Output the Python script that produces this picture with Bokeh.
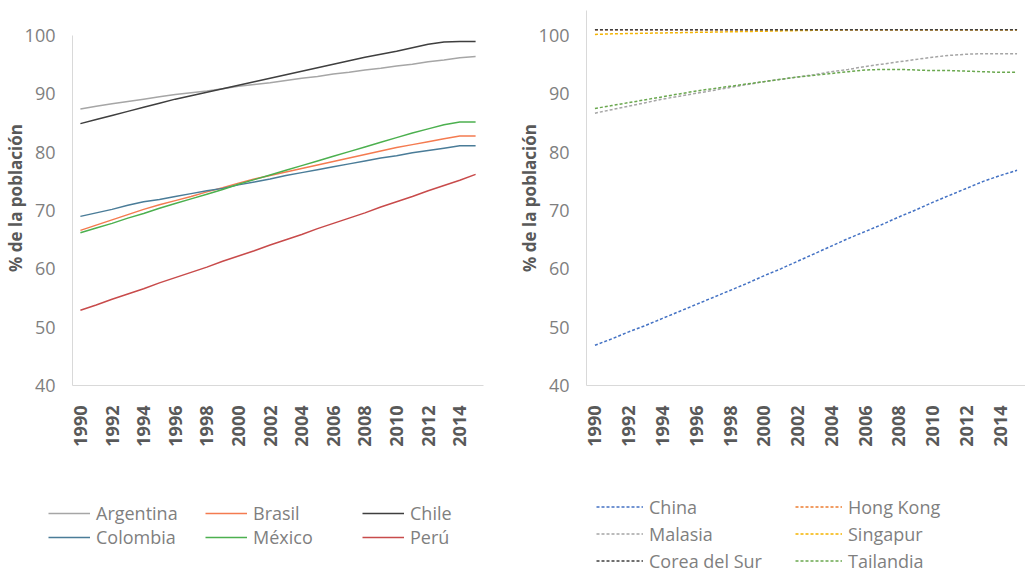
import math
from bokeh.plotting import figure
from bokeh.models import FixedTicker, Legend, LegendItem, Range1d
from bokeh.layouts import row, column
from bokeh.embed import file_html
from bokeh.resources import INLINE

years = list(range(1990, 2016))

# Left panel: Latin America
argentina = [87.4, 87.9, 88.3, 88.7, 89.1, 89.5, 89.9, 90.2, 90.5, 90.9, 91.3, 91.6, 91.9,
             92.3, 92.7, 93.0, 93.4, 93.7, 94.1, 94.4, 94.8, 95.1, 95.5, 95.8, 96.2, 96.4]
brasil = [66.6, 67.5, 68.4, 69.3, 70.2, 71.0, 71.7, 72.4, 73.2, 73.9, 74.7, 75.4, 76.0,
          76.6, 77.2, 77.8, 78.4, 79.0, 79.6, 80.2, 80.8, 81.3, 81.8, 82.3, 82.8, 82.8]
chile = [84.9, 85.6, 86.3, 87.0, 87.7, 88.4, 89.1, 89.7, 90.3, 90.9, 91.5, 92.1, 92.7,
         93.3, 93.9, 94.5, 95.1, 95.7, 96.3, 96.8, 97.3, 97.9, 98.5, 98.9, 99.0, 99.0]
colombia = [69.0, 69.6, 70.2, 70.9, 71.5, 71.9, 72.4, 72.9, 73.4, 73.8, 74.4, 74.9, 75.4,
            76.0, 76.5, 77.0, 77.5, 78.0, 78.5, 79.0, 79.4, 79.9, 80.3, 80.7, 81.1, 81.1]
mexico = [66.2, 67.0, 67.8, 68.7, 69.5, 70.4, 71.2, 72.0, 72.8, 73.6, 74.5, 75.3, 76.1,
          76.9, 77.7, 78.5, 79.3, 80.1, 80.9, 81.7, 82.5, 83.3, 84.0, 84.7, 85.2, 85.2]
peru = [52.9, 53.8, 54.8, 55.7, 56.6, 57.6, 58.5, 59.4, 60.3, 61.3, 62.2, 63.1, 64.1,
        65.0, 65.9, 66.9, 67.8, 68.7, 69.6, 70.6, 71.5, 72.4, 73.4, 74.3, 75.2, 76.2]

# Right panel: Asia
china = [46.9, 48.0, 49.2, 50.3, 51.5, 52.7, 53.9, 55.1, 56.3, 57.5, 58.8, 60.0, 61.3,
         62.6, 63.9, 65.2, 66.4, 67.6, 68.9, 70.1, 71.4, 72.6, 73.8, 75.0, 76.0, 76.9]
hong_kong = [101.0] * 26
malasia = [86.7, 87.3, 87.9, 88.5, 89.1, 89.6, 90.1, 90.6, 91.1, 91.6, 92.1, 92.5, 92.9,
           93.3, 93.8, 94.2, 94.7, 95.1, 95.5, 95.9, 96.3, 96.6, 96.8, 96.9, 96.9, 96.9]
singapur = [100.2, 100.3, 100.35, 100.4, 100.45, 100.5, 100.55, 100.6, 100.65, 100.7, 100.75,
            100.8, 100.85, 100.9, 100.95, 101.0, 101.0, 101.0, 101.0, 101.0, 101.0, 101.0,
            101.0, 101.0, 101.0, 101.0]
corea = [101.0] * 26
tailandia = [87.5, 88.0, 88.5, 89.0, 89.5, 90.0, 90.5, 90.9, 91.3, 91.7, 92.1, 92.5, 92.9,
             93.2, 93.5, 93.8, 94.1, 94.2, 94.2, 94.1, 94.0, 94.0, 93.9, 93.8, 93.7, 93.7]

left_names = ["Argentina", "Brasil", "Chile", "Colombia", "México", "Perú"]
left_series = [argentina, brasil, chile, colombia, mexico, peru]
left_colors = ["#a6a6a6", "#f47b50", "#3f3f3f", "#4a7c98", "#4cb04f", "#c84b4b"]

right_names = ["China", "Hong Kong", "Malasia", "Singapur", "Corea del Sur", "Tailandia"]
right_series = [china, hong_kong, malasia, singapur, corea, tailandia]
right_colors = ["#4472c4", "#ed7d31", "#a5a5a5", "#f5b400", "#404040", "#6aa84f"]

y_ticks = [40, 50, 60, 70, 80, 90, 100]
x_ticks = list(range(1990, 2015, 2))

FONT = "Open Sans"
MAIN_H = 470


def make_fig(width, br, ymax, axis_top):
    p = figure(width=width, height=MAIN_H, output_backend="svg", toolbar_location=None,
               title=None,
               x_range=Range1d(1989.5, 2015.5), y_range=Range1d(40, ymax),
               min_border_left=72, min_border_right=br, min_border_top=10,
               min_border_bottom=MAIN_H - 385)
    p.outline_line_color = None
    p.grid.visible = False
    p.yaxis.ticker = FixedTicker(ticks=y_ticks)
    p.xaxis.ticker = FixedTicker(ticks=x_ticks)
    p.yaxis.bounds = (40, axis_top)
    for ax in (p.xaxis, p.yaxis):
        ax.axis_line_color = "#d9d9d9"
        ax.axis_line_width = 1
        ax.major_tick_line_color = None
        ax.minor_tick_line_color = None
    p.yaxis.major_label_text_font = FONT
    p.yaxis.major_label_text_font_size = "18px"
    p.yaxis.major_label_text_color = "#7f7f7f"
    p.yaxis.major_label_standoff = 11
    p.yaxis.axis_label = "% de la población"
    p.yaxis.axis_label_text_font = FONT
    p.yaxis.axis_label_text_font_style = "bold"
    p.yaxis.axis_label_text_font_size = "17px"
    p.yaxis.axis_label_text_color = "#595959"
    p.yaxis.axis_label_standoff = -5
    p.xaxis.major_label_orientation = math.pi / 2
    p.xaxis.major_label_text_font = FONT
    p.xaxis.major_label_text_font_style = "bold"
    p.xaxis.major_label_text_font_size = "18px"
    p.xaxis.major_label_text_color = "#595959"
    p.xaxis.major_label_standoff = 14
    return p


def make_legend_fig(width, names, colors, dash, loc, ncols, gw, row_h, lw):
    lf = figure(width=width, height=575 - MAIN_H, output_backend="svg",
                toolbar_location=None, title=None, x_axis_location=None,
                y_axis_location=None, x_range=Range1d(0, 1), y_range=Range1d(0, 1),
                min_border=0)
    lf.outline_line_color = None
    lf.grid.visible = False
    items = []
    for name, c in zip(names, colors):
        r = lf.line([float("nan")], [float("nan")], line_color=c, line_width=1.5,
                    line_dash=dash)
        items.append(LegendItem(label=name, renderers=[r]))
    leg = Legend(items=items, location=loc, orientation="horizontal", ncols=ncols,
                 glyph_width=gw, glyph_height=row_h, label_height=row_h, label_width=lw,
                 label_standoff=6, spacing=0, padding=0, margin=0,
                 label_text_font=FONT, label_text_font_size="18px",
                 label_text_color="#7f7f7f",
                 background_fill_alpha=0, border_line_alpha=0)
    lf.add_layout(leg)
    return lf


p1 = make_fig(514, 31, 104.3, 100)
for name, ys, c in zip(left_names, left_series, left_colors):
    p1.line(years, ys, line_color=c, line_width=1.5)

p2 = make_fig(511, 0, 104.3, 104.3)
for name, ys, c in zip(right_names, right_series, right_colors):
    p2.line(years, ys, line_color=c, line_width=1.5, line_dash="3 2")

l1 = make_legend_fig(514, left_names, left_colors, "solid", (48, 26), 3, 42, 24, 109)
l2 = make_legend_fig(511, right_names, right_colors, "3 2", (82, 1), 2, 47, 27, 146)

layout = column(row(p1, p2), row(l1, l2))
open("out.html", "w").write(file_html(layout, INLINE))
